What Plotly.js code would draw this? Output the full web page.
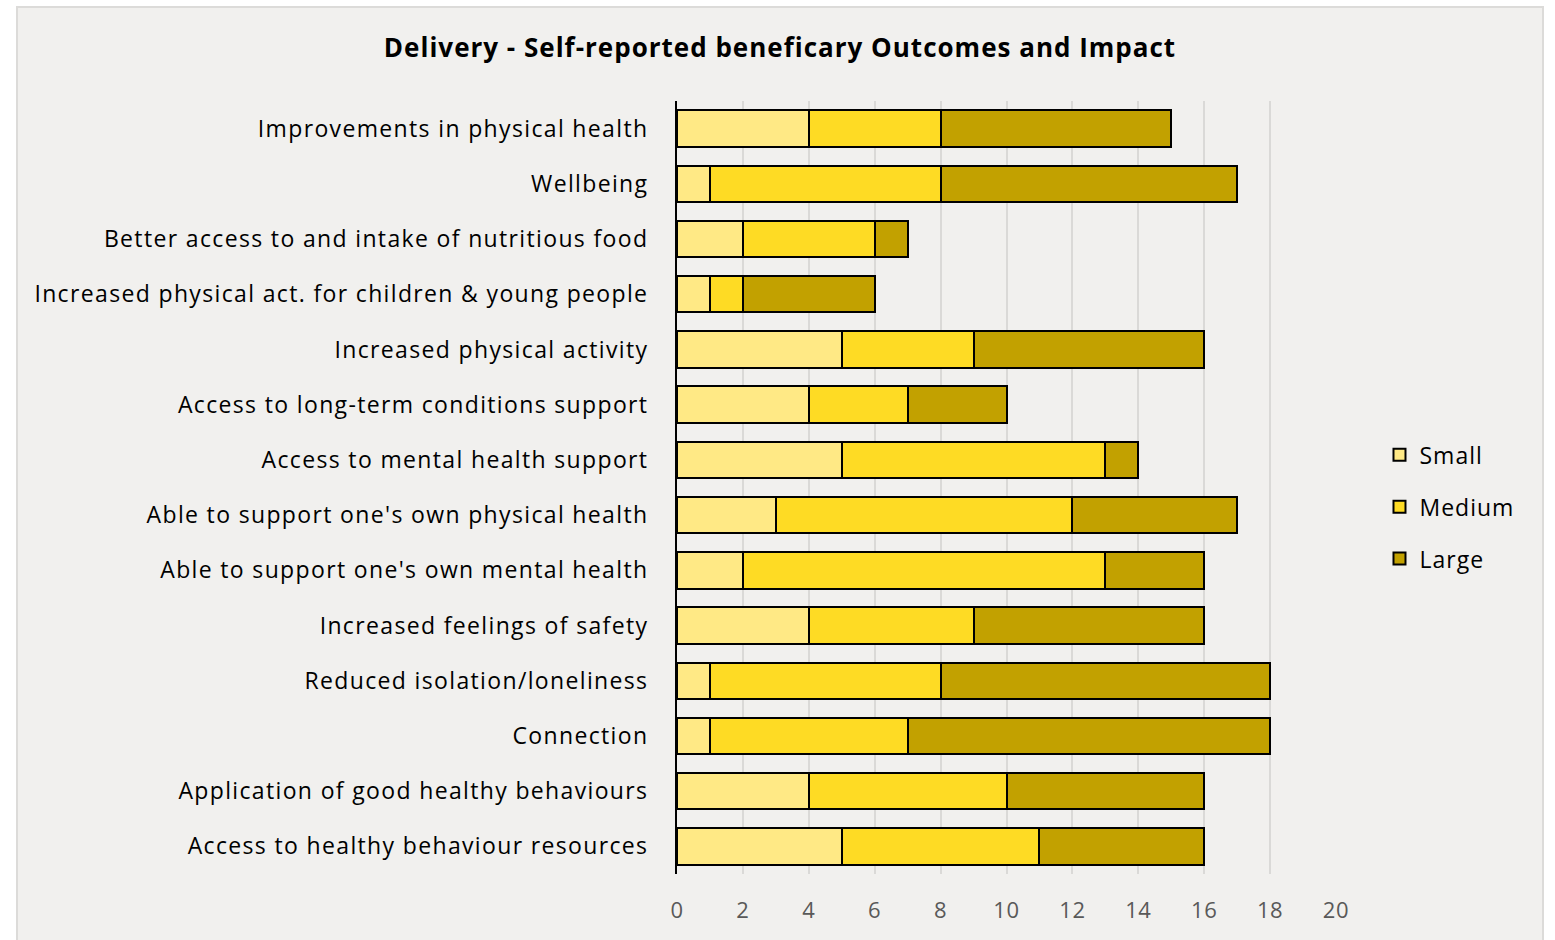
<!DOCTYPE html>
<html>
<head>
<meta charset="utf-8">
<script src="https://cdn.plot.ly/plotly-3.0.1.min.js"></script>
<style>
  html, body { margin: 0; padding: 0; background: #ffffff; width: 1555px; height: 940px; overflow: hidden; }
  #frame { position: absolute; left: 16px; top: 6px; width: 1524px; height: 940px; background: #f1f0ee; border: 2px solid #dcdbd9; border-bottom: none; }
  #chart { width: 1524px; height: 934px; }
  #chart .ytick text { letter-spacing: 1.35px; }
  #chart .xtick text { letter-spacing: 0.6px; }
  #chart .gtitle { letter-spacing: 1px; }
  #chart .legendtext { letter-spacing: 1px; }
</style>
</head>
<body>
<div id="frame"><div id="chart"></div></div>
<script>
const categories = [
  "Improvements in physical health",
  "Wellbeing",
  "Better access to and intake of nutritious food",
  "Increased physical act. for children & young people",
  "Increased physical activity",
  "Access to long-term conditions support",
  "Access to mental health support",
  "Able to support one's own physical health",
  "Able to support one's own mental health",
  "Increased feelings of safety",
  "Reduced isolation/loneliness",
  "Connection",
  "Application of good healthy behaviours",
  "Access to healthy behaviour resources"
];
const smallVals  = [4, 1, 2, 1, 5, 4, 5, 3, 2, 4, 1, 1, 4, 5];
const mediumVals = [4, 7, 4, 1, 4, 3, 8, 9, 11, 5, 7, 6, 6, 6];
const largeVals  = [7, 9, 1, 4, 7, 3, 1, 5, 3, 7, 10, 11, 6, 5];
const seriesNames = ["Small", "Medium", "Large"];
const seriesColors = ["#ffe985", "#fedb24", "#c2a100"];
const xTicks = [0, 2, 4, 6, 8, 10, 12, 14, 16, 18, 20];

const FONT = "'Open Sans', sans-serif";
const values = [smallVals, mediumVals, largeVals];
const traces = values.map((v, i) => ({
  type: "bar",
  orientation: "h",
  name: seriesNames[i],
  y: categories,
  x: v,
  width: 0.66,
  legendgroup: seriesNames[i],
  marker: { color: seriesColors[i], line: { color: "#000000", width: 2 } },
  hoverinfo: "x+y+name"
}));

const layout = {
  width: 1524,
  height: 934,
  paper_bgcolor: "#f1f0ee",
  plot_bgcolor: "#f1f0ee",
  barmode: "stack",
  margin: { l: 659, r: 206, t: 93, b: 68 },
  title: {
    text: "<b>Delivery - Self-reported beneficary Outcomes and Impact</b>",
    font: { family: FONT, size: 26, color: "#000000", weight: 800 },
    x: 0.5, xanchor: "center", y: 1 - 40 / 934, yanchor: "middle"
  },
  xaxis: {
    range: [0, 20],
    tickvals: xTicks,
    ticktext: xTicks.map(String),
    showgrid: true,
    gridcolor: "#dad9d7",
    gridwidth: 2,
    zeroline: false,
    showline: false,
    ticks: "",
    ticklabelstandoff: 21,
    tickfont: { family: FONT, size: 22, color: "#595959" },
    fixedrange: true
  },
  yaxis: {
    autorange: "reversed",
    type: "category",
    showline: true,
    linecolor: "#000000",
    linewidth: 2,
    showgrid: false,
    zeroline: false,
    ticks: "",
    ticklabelstandoff: 22,
    tickfont: { family: FONT, size: 23, color: "#000000" },
    fixedrange: true
  },
  legend: {
    x: 1.066, xanchor: "left",
    y: 0.475, yanchor: "middle",
    xref: "paper", yref: "paper",
    font: { family: FONT, size: 23, color: "#000000" },
    traceorder: "grouped",
    tracegroupgap: 19,
    bgcolor: "rgba(0,0,0,0)",
    itemwidth: 30
  },
  showlegend: true,
  bargap: 0.34
};

Plotly.newPlot("chart", traces, layout, { displayModeBar: false, responsive: false });
</script>
</body>
</html>
